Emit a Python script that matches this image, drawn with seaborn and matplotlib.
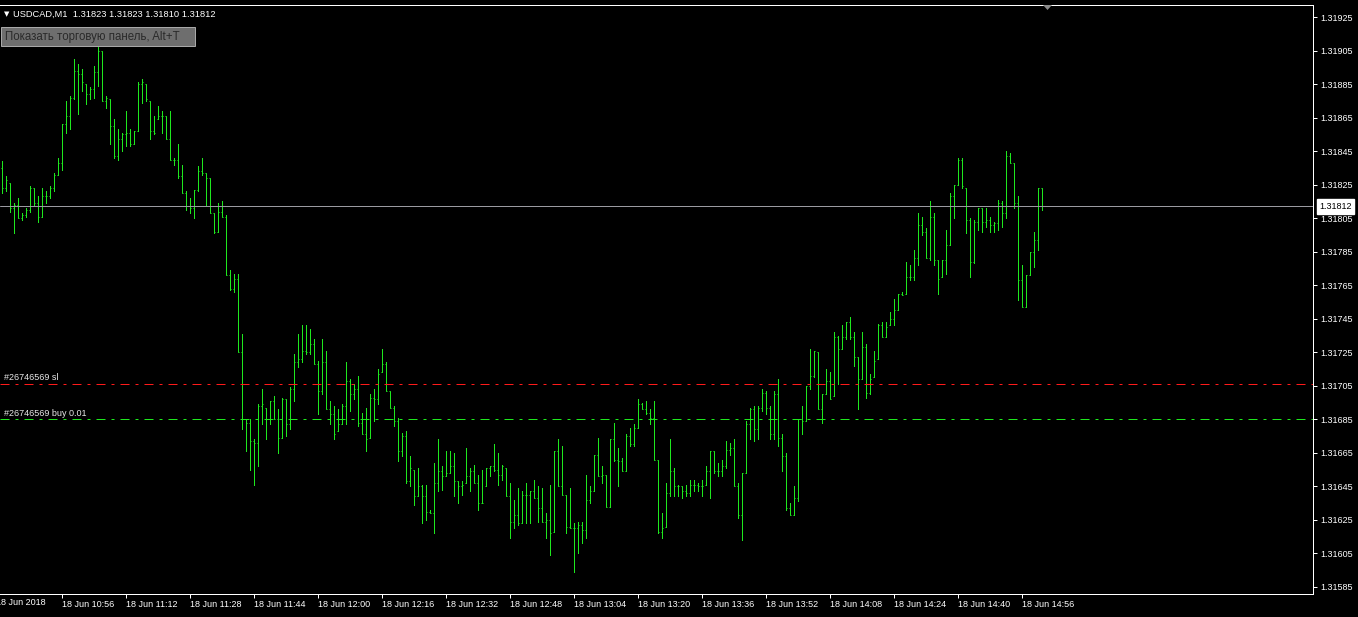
import numpy as np
import pandas as pd
import matplotlib
matplotlib.use('Agg')
import matplotlib.pyplot as plt
import matplotlib.transforms as mtransforms
from matplotlib.patches import Rectangle, Polygon
import seaborn as sns

# USDCAD M1 bars, 18 Jun 2018, first bar at 10:41
first_bar_time = '10:41'

open_ = [
    1.31835, 1.31823, 1.31826, 1.31811, 1.31813, 1.31805, 1.31807, 1.31810, 1.31823, 1.31814,
    1.31806, 1.31818, 1.31818, 1.31823, 1.31831, 1.31838, 1.31861, 1.31866, 1.31877, 1.31893,
    1.31891, 1.31885, 1.31879, 1.31882, 1.31892, 1.31905, 1.31875, 1.31876, 1.31860, 1.31842,
    1.31852, 1.31855, 1.31856, 1.31849, 1.31857, 1.31885, 1.31885, 1.31875, 1.31857, 1.31864,
    1.31866, 1.31866, 1.31852, 1.31840, 1.31840, 1.31830, 1.31820, 1.31812, 1.31811, 1.31822,
    1.31833, 1.31832, 1.31829, 1.31808, 1.31797, 1.31809, 1.31806, 1.31771, 1.31763, 1.31769,
    1.31725, 1.31685, 1.31683, 1.31672, 1.31671, 1.31693, 1.31692, 1.31685, 1.31696, 1.31685,
    1.31674, 1.31697, 1.31682, 1.31703, 1.31719, 1.31721, 1.31726, 1.31725, 1.31730, 1.31718,
    1.31702, 1.31719, 1.31691, 1.31688, 1.31678, 1.31682, 1.31693, 1.31708, 1.31700, 1.31703,
    1.31683, 1.31676, 1.31674, 1.31698, 1.31697, 1.31713, 1.31718, 1.31702, 1.31692, 1.31684,
    1.31666, 1.31675, 1.31648, 1.31655, 1.31639, 1.31645, 1.31639, 1.31630, 1.31629, 1.31647,
    1.31654, 1.31651, 1.31653, 1.31657, 1.31648, 1.31645, 1.31647, 1.31651, 1.31654, 1.31647,
    1.31635, 1.31645, 1.31656, 1.31657, 1.31655, 1.31652, 1.31656, 1.31639, 1.31624, 1.31628,
    1.31623, 1.31640, 1.31640, 1.31642, 1.31638, 1.31632, 1.31624, 1.31625, 1.31618, 1.31666,
    1.31645, 1.31640, 1.31621, 1.31620, 1.31620, 1.31622, 1.31619, 1.31637, 1.31642, 1.31664,
    1.31651, 1.31652, 1.31633, 1.31673, 1.31661, 1.31660, 1.31654, 1.31675, 1.31670, 1.31680,
    1.31694, 1.31691, 1.31689, 1.31686, 1.31661, 1.31618, 1.31621, 1.31641, 1.31654, 1.31645,
    1.31645, 1.31642, 1.31641, 1.31646, 1.31646, 1.31645, 1.31646, 1.31654, 1.31666, 1.31654,
    1.31654, 1.31657, 1.31667, 1.31668, 1.31645, 1.31628, 1.31653, 1.31682, 1.31691, 1.31679,
    1.31692, 1.31701, 1.31692, 1.31676, 1.31700, 1.31674, 1.31663, 1.31632, 1.31628, 1.31638,
    1.31685, 1.31684, 1.31705, 1.31711, 1.31725, 1.31691, 1.31700, 1.31708, 1.31699, 1.31734,
    1.31727, 1.31734, 1.31743, 1.31734, 1.31722, 1.31709, 1.31728, 1.31701, 1.31710, 1.31721,
    1.31741, 1.31734, 1.31741, 1.31745, 1.31750, 1.31760, 1.31760, 1.31770, 1.31770, 1.31781,
    1.31801, 1.31797, 1.31781, 1.31806, 1.31780, 1.31770, 1.31780, 1.31789, 1.31818, 1.31825,
    1.31840, 1.31823, 1.31804, 1.31779, 1.31803, 1.31811, 1.31803, 1.31804, 1.31801, 1.31802,
    1.31814, 1.31808, 1.31842, 1.31838, 1.31814, 1.31768, 1.31752, 1.31771, 1.31785, 1.31792,
    1.31823,
]

high = [
    1.31839, 1.31830, 1.31826, 1.31814, 1.31817, 1.31808, 1.31811, 1.31824, 1.31823, 1.31818,
    1.31823, 1.31821, 1.31824, 1.31832, 1.31841, 1.31861, 1.31875, 1.31878, 1.31900, 1.31897,
    1.31894, 1.31885, 1.31883, 1.31896, 1.31909, 1.31905, 1.31878, 1.31876, 1.31864, 1.31858,
    1.31856, 1.31869, 1.31858, 1.31857, 1.31886, 1.31888, 1.31885, 1.31875, 1.31866, 1.31872,
    1.31869, 1.31866, 1.31869, 1.31841, 1.31849, 1.31837, 1.31821, 1.31817, 1.31822, 1.31836,
    1.31841, 1.31832, 1.31829, 1.31808, 1.31814, 1.31815, 1.31807, 1.31774, 1.31772, 1.31772,
    1.31736, 1.31685, 1.31685, 1.31673, 1.31694, 1.31703, 1.31692, 1.31696, 1.31699, 1.31691,
    1.31698, 1.31697, 1.31704, 1.31724, 1.31736, 1.31741, 1.31741, 1.31739, 1.31733, 1.31720,
    1.31733, 1.31726, 1.31696, 1.31693, 1.31691, 1.31694, 1.31719, 1.31709, 1.31706, 1.31711,
    1.31689, 1.31692, 1.31700, 1.31703, 1.31715, 1.31727, 1.31719, 1.31702, 1.31693, 1.31686,
    1.31677, 1.31678, 1.31663, 1.31655, 1.31656, 1.31646, 1.31646, 1.31631, 1.31659, 1.31673,
    1.31657, 1.31666, 1.31666, 1.31665, 1.31648, 1.31648, 1.31668, 1.31656, 1.31658, 1.31652,
    1.31655, 1.31656, 1.31657, 1.31670, 1.31665, 1.31658, 1.31656, 1.31647, 1.31637, 1.31644,
    1.31642, 1.31647, 1.31642, 1.31649, 1.31645, 1.31644, 1.31629, 1.31646, 1.31666, 1.31673,
    1.31669, 1.31640, 1.31644, 1.31623, 1.31624, 1.31624, 1.31652, 1.31645, 1.31664, 1.31674,
    1.31657, 1.31652, 1.31673, 1.31683, 1.31668, 1.31662, 1.31676, 1.31680, 1.31682, 1.31697,
    1.31695, 1.31696, 1.31691, 1.31696, 1.31661, 1.31629, 1.31647, 1.31673, 1.31656, 1.31646,
    1.31645, 1.31646, 1.31649, 1.31649, 1.31647, 1.31649, 1.31657, 1.31666, 1.31666, 1.31659,
    1.31661, 1.31672, 1.31671, 1.31673, 1.31647, 1.31653, 1.31684, 1.31692, 1.31693, 1.31693,
    1.31703, 1.31702, 1.31693, 1.31702, 1.31709, 1.31676, 1.31665, 1.31635, 1.31645, 1.31685,
    1.31693, 1.31705, 1.31727, 1.31726, 1.31725, 1.31700, 1.31715, 1.31713, 1.31737, 1.31735,
    1.31741, 1.31743, 1.31746, 1.31737, 1.31722, 1.31737, 1.31730, 1.31712, 1.31726, 1.31742,
    1.31743, 1.31743, 1.31749, 1.31757, 1.31760, 1.31761, 1.31779, 1.31777, 1.31786, 1.31808,
    1.31806, 1.31799, 1.31815, 1.31808, 1.31780, 1.31780, 1.31798, 1.31820, 1.31825, 1.31841,
    1.31841, 1.31823, 1.31805, 1.31804, 1.31811, 1.31811, 1.31811, 1.31806, 1.31803, 1.31816,
    1.31815, 1.31845, 1.31844, 1.31838, 1.31818, 1.31777, 1.31771, 1.31785, 1.31797, 1.31823,
    1.31823,
]

low = [
    1.31820, 1.31821, 1.31809, 1.31796, 1.31805, 1.31804, 1.31806, 1.31809, 1.31812, 1.31803,
    1.31806, 1.31814, 1.31817, 1.31821, 1.31831, 1.31834, 1.31856, 1.31858, 1.31876, 1.31867,
    1.31881, 1.31873, 1.31876, 1.31877, 1.31884, 1.31875, 1.31871, 1.31849, 1.31841, 1.31840,
    1.31845, 1.31848, 1.31848, 1.31849, 1.31857, 1.31874, 1.31875, 1.31852, 1.31855, 1.31864,
    1.31856, 1.31852, 1.31840, 1.31837, 1.31829, 1.31820, 1.31810, 1.31808, 1.31805, 1.31821,
    1.31831, 1.31813, 1.31808, 1.31796, 1.31797, 1.31806, 1.31771, 1.31762, 1.31761, 1.31725,
    1.31679, 1.31666, 1.31655, 1.31646, 1.31657, 1.31682, 1.31673, 1.31682, 1.31685, 1.31665,
    1.31674, 1.31675, 1.31679, 1.31696, 1.31716, 1.31719, 1.31724, 1.31724, 1.31718, 1.31688,
    1.31700, 1.31691, 1.31682, 1.31673, 1.31678, 1.31682, 1.31682, 1.31690, 1.31697, 1.31681,
    1.31676, 1.31666, 1.31674, 1.31684, 1.31694, 1.31713, 1.31702, 1.31692, 1.31681, 1.31660,
    1.31663, 1.31647, 1.31645, 1.31634, 1.31639, 1.31623, 1.31625, 1.31629, 1.31617, 1.31642,
    1.31643, 1.31651, 1.31653, 1.31639, 1.31635, 1.31640, 1.31647, 1.31642, 1.31647, 1.31631,
    1.31635, 1.31645, 1.31651, 1.31654, 1.31646, 1.31649, 1.31639, 1.31614, 1.31620, 1.31622,
    1.31623, 1.31623, 1.31623, 1.31638, 1.31624, 1.31624, 1.31614, 1.31604, 1.31618, 1.31645,
    1.31640, 1.31617, 1.31620, 1.31594, 1.31605, 1.31611, 1.31614, 1.31635, 1.31642, 1.31651,
    1.31647, 1.31633, 1.31633, 1.31660, 1.31645, 1.31654, 1.31654, 1.31669, 1.31669, 1.31680,
    1.31691, 1.31688, 1.31682, 1.31661, 1.31617, 1.31614, 1.31621, 1.31639, 1.31639, 1.31639,
    1.31638, 1.31639, 1.31639, 1.31642, 1.31642, 1.31639, 1.31646, 1.31638, 1.31653, 1.31651,
    1.31651, 1.31656, 1.31664, 1.31645, 1.31626, 1.31613, 1.31653, 1.31673, 1.31672, 1.31673,
    1.31690, 1.31688, 1.31673, 1.31673, 1.31669, 1.31654, 1.31631, 1.31628, 1.31628, 1.31636,
    1.31676, 1.31684, 1.31703, 1.31710, 1.31691, 1.31683, 1.31700, 1.31697, 1.31699, 1.31706,
    1.31727, 1.31733, 1.31733, 1.31717, 1.31691, 1.31709, 1.31698, 1.31700, 1.31710, 1.31721,
    1.31734, 1.31734, 1.31741, 1.31741, 1.31750, 1.31759, 1.31760, 1.31768, 1.31768, 1.31777,
    1.31795, 1.31781, 1.31780, 1.31777, 1.31760, 1.31770, 1.31772, 1.31789, 1.31805, 1.31825,
    1.31823, 1.31796, 1.31770, 1.31778, 1.31798, 1.31797, 1.31800, 1.31797, 1.31797, 1.31798,
    1.31800, 1.31805, 1.31838, 1.31811, 1.31756, 1.31752, 1.31752, 1.31771, 1.31776, 1.31786,
    1.31810,
]

close = [
    1.31823, 1.31828, 1.31811, 1.31813, 1.31805, 1.31807, 1.31810, 1.31823, 1.31814, 1.31806,
    1.31818, 1.31818, 1.31823, 1.31831, 1.31838, 1.31861, 1.31866, 1.31877, 1.31893, 1.31891,
    1.31886, 1.31879, 1.31882, 1.31892, 1.31905, 1.31875, 1.31877, 1.31860, 1.31842, 1.31852,
    1.31855, 1.31856, 1.31849, 1.31857, 1.31885, 1.31886, 1.31876, 1.31857, 1.31856, 1.31866,
    1.31866, 1.31852, 1.31840, 1.31840, 1.31830, 1.31820, 1.31812, 1.31811, 1.31822, 1.31833,
    1.31832, 1.31829, 1.31808, 1.31797, 1.31809, 1.31806, 1.31771, 1.31763, 1.31769, 1.31725,
    1.31685, 1.31683, 1.31672, 1.31671, 1.31693, 1.31694, 1.31685, 1.31696, 1.31685, 1.31674,
    1.31697, 1.31682, 1.31703, 1.31719, 1.31721, 1.31726, 1.31725, 1.31730, 1.31718, 1.31702,
    1.31719, 1.31691, 1.31688, 1.31676, 1.31682, 1.31693, 1.31708, 1.31700, 1.31703, 1.31683,
    1.31676, 1.31673, 1.31698, 1.31697, 1.31712, 1.31718, 1.31702, 1.31692, 1.31684, 1.31666,
    1.31675, 1.31648, 1.31656, 1.31639, 1.31645, 1.31639, 1.31630, 1.31629, 1.31647, 1.31654,
    1.31651, 1.31653, 1.31657, 1.31648, 1.31645, 1.31646, 1.31651, 1.31654, 1.31647, 1.31635,
    1.31635, 1.31656, 1.31657, 1.31655, 1.31652, 1.31657, 1.31639, 1.31624, 1.31628, 1.31623,
    1.31640, 1.31640, 1.31642, 1.31638, 1.31632, 1.31624, 1.31625, 1.31617, 1.31666, 1.31645,
    1.31640, 1.31621, 1.31620, 1.31620, 1.31622, 1.31619, 1.31637, 1.31642, 1.31664, 1.31651,
    1.31652, 1.31633, 1.31673, 1.31661, 1.31660, 1.31654, 1.31675, 1.31670, 1.31680, 1.31694,
    1.31691, 1.31689, 1.31686, 1.31661, 1.31618, 1.31620, 1.31641, 1.31654, 1.31645, 1.31645,
    1.31642, 1.31641, 1.31646, 1.31646, 1.31645, 1.31645, 1.31654, 1.31666, 1.31654, 1.31654,
    1.31657, 1.31667, 1.31668, 1.31645, 1.31628, 1.31653, 1.31682, 1.31691, 1.31679, 1.31692,
    1.31701, 1.31692, 1.31676, 1.31700, 1.31674, 1.31663, 1.31632, 1.31628, 1.31638, 1.31685,
    1.31684, 1.31705, 1.31711, 1.31726, 1.31691, 1.31700, 1.31708, 1.31697, 1.31734, 1.31727,
    1.31734, 1.31743, 1.31734, 1.31722, 1.31709, 1.31728, 1.31701, 1.31709, 1.31720, 1.31741,
    1.31734, 1.31740, 1.31745, 1.31750, 1.31760, 1.31759, 1.31770, 1.31770, 1.31781, 1.31801,
    1.31797, 1.31781, 1.31806, 1.31780, 1.31769, 1.31780, 1.31789, 1.31818, 1.31825, 1.31840,
    1.31824, 1.31804, 1.31779, 1.31803, 1.31811, 1.31803, 1.31804, 1.31801, 1.31802, 1.31814,
    1.31808, 1.31842, 1.31838, 1.31814, 1.31768, 1.31752, 1.31771, 1.31785, 1.31792, 1.31823,
    1.31812,
]

time_labels = ['18 Jun 10:56', '18 Jun 11:12', '18 Jun 11:28', '18 Jun 11:44',
               '18 Jun 12:00', '18 Jun 12:16', '18 Jun 12:32', '18 Jun 12:48',
               '18 Jun 13:04', '18 Jun 13:20', '18 Jun 13:36', '18 Jun 13:52',
               '18 Jun 14:08', '18 Jun 14:24', '18 Jun 14:40', '18 Jun 14:56']
date_label = '18 Jun 2018'
date_label_time = '10:40'

price_ticks = [1.31585, 1.31605, 1.31625, 1.31645, 1.31665, 1.31685, 1.31705,
               1.31725, 1.31745, 1.31765, 1.31785, 1.31805, 1.31825, 1.31845,
               1.31865, 1.31885, 1.31905, 1.31925]

symbol = 'USDCAD,M1'
bid_price = 1.31812
sl_price = 1.31706
buy_price = 1.31685
sl_label = '#26746569 sl'
buy_label = '#26746569 buy 0.01'
panel_text = 'Показать торговую панель, Alt+T'

bar_color = '#1ee81e'
W, H = 1358, 617
PX = 0.72  # one pixel in points at 100 dpi


def minutes(t):
    h, m = t.split(':')
    return int(h) * 60 + int(m)


def fig_xy(px, py):
    return px / W, 1 - py / H


sns.set_theme(style='dark', rc={
    'figure.facecolor': 'black',
    'axes.facecolor': 'black',
    'axes.edgecolor': 'white',
    'axes.grid': False,
    'lines.scale_dashes': False,
})
plt.rcParams['font.family'] = ['Liberation Sans', 'DejaVu Sans']

fig = plt.figure(figsize=(W / 100, H / 100), dpi=100)
ax = fig.add_axes([0, 23 / H, 1313 / W, 589 / H])

# OHLC bars: open tick, high-low range, close tick as one path per bar
tick_w = 0.25
rows = []
for i in range(len(close)):
    pts = [(i - tick_w, open_[i]), (i, open_[i]), (i, high[i]),
           (i, low[i]), (i, close[i]), (i + tick_w, close[i])]
    for k, (x, y) in enumerate(pts):
        rows.append((i, k, x, y))
bars = pd.DataFrame(rows, columns=['bar', 'step', 'x', 'price'])

sns.lineplot(data=bars, x='x', y='price', units='bar', estimator=None, sort=False,
             color=bar_color, linewidth=PX, snap=True, solid_joinstyle='miter',
             solid_capstyle='butt', ax=ax, legend=False)

# horizontal lines
dashdot = (0, (9 * PX, 6 * PX, 3 * PX, 6 * PX))
ax.axhline(bid_price, color='#9a9aa0', lw=PX, snap=True)
ax.axhline(sl_price, color='#ff1a1a', lw=PX, ls=dashdot, snap=True)
ax.axhline(buy_price, color=bar_color, lw=PX, ls=dashdot, snap=True)

ax.set_xlim(-0.375, 327.875)
ax.set_ylim(1.315808, 1.319322)

ax.set_xlabel('')
ax.set_ylabel('')
start = minutes(first_bar_time)
ax.set_xticks([minutes(t.split()[-1]) - start for t in time_labels])
ax.set_xticklabels(time_labels, ha='left')
ax.yaxis.tick_right()
ax.set_yticks(price_ticks)
ax.set_yticklabels([f'{p:.5f}' for p in price_ticks])
ax.tick_params(axis='x', colors='white', length=3, width=PX, pad=1.5,
               labelsize=6.5, direction='out', bottom=True)
ax.tick_params(axis='y', colors='white', length=3, width=PX, pad=2,
               labelsize=6.5, direction='out', right=True, left=False)
for side in ['top', 'right', 'bottom']:
    ax.spines[side].set_color('white')
    ax.spines[side].set_linewidth(PX)
ax.spines['left'].set_visible(False)

# the first time label sits at the left edge and is partly cut off, as on the terminal
xdata_yaxes = mtransforms.blended_transform_factory(ax.transData, ax.transAxes)
ax.annotate(date_label, xy=(minutes(date_label_time) - start, 0), xycoords=xdata_yaxes,
            xytext=(-1.2, -3.2), textcoords='offset points', ha='left', va='top',
            color='white', fontsize=6.5, annotation_clip=False)

# bid price box on the price scale
yaxes = mtransforms.blended_transform_factory(ax.transAxes, ax.transData)
ax.annotate(f'{bid_price:.5f}', xy=(1, bid_price), xycoords=yaxes,
            xytext=(4.5, 0), textcoords='offset points', ha='left', va='center',
            color='black', fontsize=6.5, annotation_clip=False,
            bbox=dict(boxstyle='square,pad=0.3', fc='white', ec='white'))

# order labels
ax.annotate(sl_label, xy=(0, sl_price), xycoords=yaxes, xytext=(3, 1.2),
            textcoords='offset points', ha='left', va='bottom', color='#e8e8e8', fontsize=6.5)
ax.annotate(buy_label, xy=(0, buy_price), xycoords=yaxes, xytext=(3, 1.2),
            textcoords='offset points', ha='left', va='bottom', color='#e8e8e8', fontsize=6.5)

# header and panel button
header = f'{symbol}  {open_[-1]:.5f} {high[-1]:.5f} {low[-1]:.5f} {close[-1]:.5f}'
fig.text(*fig_xy(4, 14.5), '▼', color='white', fontsize=5, va='center', ha='left',
         family=['DejaVu Sans'])
fig.text(*fig_xy(13, 14.5), header, color='white', fontsize=6.7, va='center', ha='left')
x0, y0 = fig_xy(1, 46)
x1, y1 = fig_xy(195, 27)
fig.patches.append(Rectangle((x0, y0), x1 - x0, y1 - y0, transform=fig.transFigure,
                             fc='#6e6e6e', ec='#a8a8a8', lw=PX, zorder=5))
fig.text(*fig_xy(5, 37), panel_text, color='#2a2a2a', fontsize=8.3, va='center',
         ha='left', zorder=6)

# chart shift marker
tri = [fig_xy(1043, 5), fig_xy(1052, 5), fig_xy(1047.5, 10)]
fig.patches.append(Polygon(tri, closed=True, transform=fig.transFigure,
                           fc='#8a8a8a', ec='none', zorder=5))

fig.savefig('out.png', dpi=100, facecolor='black')
